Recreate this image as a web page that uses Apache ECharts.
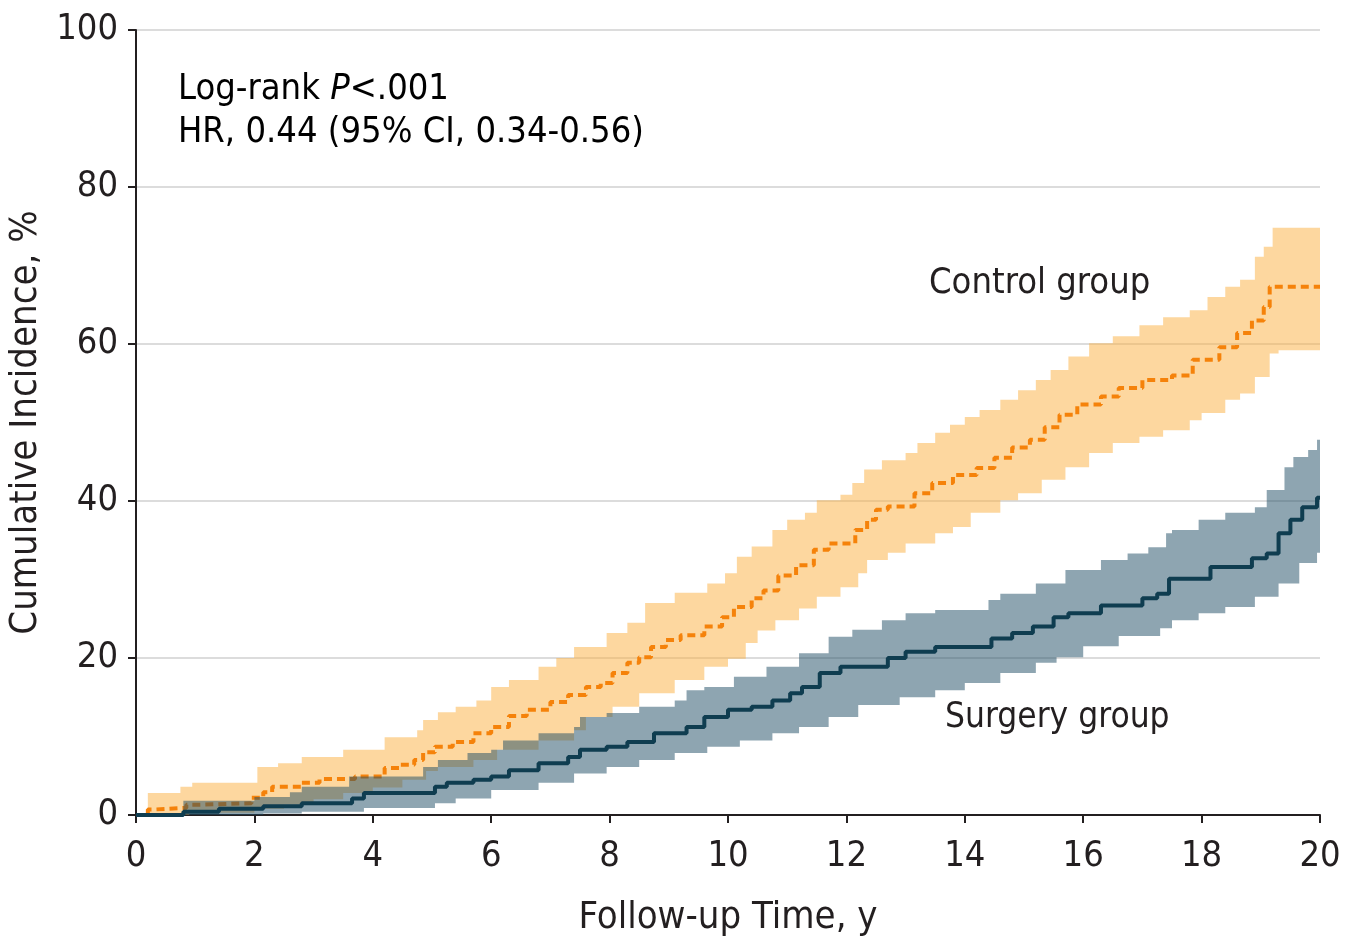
<!DOCTYPE html>
<html>
<head>
<meta charset="utf-8">
<title>Cumulative Incidence</title>
<script src="https://cdn.jsdelivr.net/npm/echarts@6/dist/echarts.min.js"></script>
<style>
  html, body { margin: 0; padding: 0; background: #ffffff; }
  #chart { width: 1347px; height: 939px; }
</style>
</head>
<body>
<div id="chart"></div>
<script>
// Kaplan-Meier style cumulative incidence, [years, percent] step points.
const controlEstimate = [
  [0, 0], [0.2, 0.7], [0.3, 0.9], [0.85, 1.3], [1.0, 1.5], [1.95, 2.2], [2.15, 2.9],
  [2.3, 3.6], [2.8, 4.1], [3.1, 4.6], [3.7, 4.9], [4.2, 6.0], [4.45, 6.4], [4.7, 7.0],
  [4.85, 8.0], [5.05, 8.7], [5.35, 9.3], [5.7, 10.4], [6.0, 11.2], [6.3, 12.6],
  [6.6, 13.4], [7.0, 14.4], [7.3, 15.3], [7.6, 16.3], [7.85, 16.8], [8.05, 18.1],
  [8.3, 19.4], [8.5, 20.1], [8.7, 21.4], [8.95, 22.3], [9.2, 22.9], [9.6, 24.0],
  [9.9, 25.2], [10.1, 26.5], [10.4, 27.6], [10.6, 28.6], [10.85, 30.5], [11.15, 31.8],
  [11.45, 33.8], [11.7, 34.6], [12.15, 36.3], [12.35, 37.6], [12.5, 38.9], [12.7, 39.3],
  [13.15, 41.0], [13.45, 42.3], [13.8, 43.3], [14.2, 44.2], [14.5, 45.5], [14.8, 46.8],
  [15.1, 47.8], [15.35, 49.4], [15.6, 51.0], [15.9, 52.3], [16.3, 53.3], [16.6, 54.4],
  [17.0, 55.4], [17.5, 56.0], [17.85, 58.0], [18.3, 59.6], [18.6, 61.4], [18.85, 63.0],
  [19.05, 64.7], [19.15, 67.3], [20, 67.3]
];
const controlUpper = [
  [0, 0], [0.2, 2.8], [0.75, 3.6], [0.95, 4.1], [2.05, 6.1], [2.4, 6.6], [2.8, 7.4],
  [3.5, 8.3], [4.2, 9.9], [4.75, 10.8], [4.85, 12.1], [5.1, 13.1], [5.4, 13.8],
  [5.75, 14.6], [6.0, 16.3], [6.3, 17.2], [6.8, 18.9], [7.1, 20.0], [7.4, 21.4],
  [7.95, 23.2], [8.3, 24.5], [8.6, 27.0], [9.1, 28.3], [9.65, 29.5], [9.95, 30.8],
  [10.15, 32.9], [10.4, 34.2], [10.75, 36.3], [11.0, 37.6], [11.3, 38.5], [11.5, 40.1],
  [11.9, 40.8], [12.1, 42.3], [12.3, 44.0], [12.6, 45.2], [13.0, 46.1], [13.2, 47.4],
  [13.5, 48.7], [13.75, 49.7], [14.0, 50.7], [14.25, 51.6], [14.6, 52.9], [14.9, 54.1],
  [15.2, 55.4], [15.45, 56.7], [15.75, 58.4], [16.1, 60.1], [16.5, 61.0], [16.95, 62.4],
  [17.35, 63.4], [17.8, 64.3], [18.1, 66.0], [18.4, 67.3], [18.65, 68.2], [18.9, 71.1],
  [19.05, 72.4], [19.2, 74.8], [20, 74.8]
];
const controlLower = [
  [0, 0], [0.9, 0.3], [2.0, 0.8], [2.5, 1.3], [3.0, 2.0], [3.5, 2.8], [4.0, 3.5],
  [4.5, 4.5], [4.9, 5.6], [5.1, 6.1], [5.7, 7.0], [6.1, 8.3], [6.8, 9.5], [7.4, 10.8],
  [7.6, 12.5], [8.05, 13.8], [8.5, 15.5], [9.1, 17.2], [9.6, 18.9], [10.0, 19.9],
  [10.3, 21.9], [10.5, 23.5], [10.8, 24.8], [11.2, 26.3], [11.5, 27.8], [11.9, 29.0],
  [12.2, 30.8], [12.35, 32.5], [12.7, 33.4], [13.0, 34.6], [13.5, 35.9], [13.8, 36.7],
  [14.1, 38.5], [14.6, 40.1], [14.9, 41.0], [15.3, 42.7], [15.7, 44.3], [16.1, 46.1],
  [16.5, 47.4], [16.95, 48.2], [17.35, 49.0], [17.8, 50.3], [18.0, 51.2], [18.4, 52.9],
  [18.65, 53.7], [18.9, 55.8], [19.15, 58.8], [19.3, 59.2], [20, 59.2]
];
const surgeryEstimate = [
  [0, 0], [0.8, 0.4], [1.4, 0.8], [2.15, 1.1], [2.8, 1.5], [3.65, 2.1], [3.85, 2.8],
  [5.05, 3.6], [5.25, 4.1], [5.7, 4.5], [6.0, 4.9], [6.3, 5.7], [6.8, 6.6], [7.3, 7.4],
  [7.5, 8.3], [7.95, 8.7], [8.3, 9.3], [8.75, 10.4], [9.3, 11.2], [9.6, 12.5],
  [10.0, 13.4], [10.4, 13.8], [10.75, 14.6], [11.05, 15.5], [11.25, 16.3], [11.55, 18.1],
  [11.9, 18.9], [12.7, 20.0], [13.0, 20.8], [13.5, 21.4], [14.45, 22.5], [14.8, 23.2],
  [15.15, 24.0], [15.5, 25.2], [15.75, 25.7], [16.3, 26.7], [17.0, 27.6], [17.25, 28.2],
  [17.45, 30.1], [18.15, 31.6], [18.85, 32.7], [19.1, 33.3], [19.3, 35.9], [19.5, 37.6],
  [19.7, 39.2], [19.95, 40.4], [20, 40.4]
];
const surgeryUpper = [
  [0, 0], [0.8, 1.8], [2.0, 2.3], [2.6, 2.9], [2.8, 3.6], [3.6, 4.9], [4.85, 6.1],
  [5.1, 7.0], [5.6, 7.9], [6.0, 8.3], [6.2, 9.5], [6.8, 10.4], [7.4, 11.2], [7.5, 12.5],
  [7.95, 13.0], [8.5, 13.8], [9.1, 14.6], [9.3, 15.9], [9.6, 16.3], [10.1, 17.6],
  [10.65, 18.9], [11.2, 20.6], [11.7, 22.7], [12.1, 23.6], [12.6, 24.8], [13.0, 25.7],
  [13.5, 26.1], [14.4, 27.4], [14.6, 28.2], [15.2, 29.5], [15.7, 31.2], [16.3, 32.5],
  [16.75, 33.3], [17.1, 34.1], [17.4, 35.9], [17.5, 36.3], [17.95, 37.6], [18.4, 38.5],
  [18.9, 39.2], [19.1, 41.4], [19.4, 44.3], [19.55, 45.6], [19.8, 46.5], [19.95, 47.8],
  [20, 47.8]
];
const surgeryLower = [
  [0, 0], [2.15, 0.2], [2.8, 0.4], [3.85, 0.9], [5.05, 1.5], [5.4, 2.1], [6.0, 3.2],
  [6.8, 4.1], [7.4, 5.3], [7.95, 6.1], [8.5, 7.0], [9.1, 7.9], [9.65, 8.7], [10.2, 9.5],
  [10.75, 10.4], [11.2, 11.2], [11.7, 12.5], [12.2, 14.0], [12.9, 15.0], [13.5, 15.9],
  [14.0, 16.8], [14.6, 18.1], [15.2, 19.4], [15.55, 20.1], [16.0, 21.5], [16.6, 22.8],
  [17.3, 23.8], [17.5, 24.8], [17.95, 25.7], [18.4, 26.5], [18.9, 27.8], [19.3, 29.5],
  [19.65, 32.1], [19.95, 33.4], [20, 33.4]
];

const xTicks = [0, 2, 4, 6, 8, 10, 12, 14, 16, 18, 20];
const yTicks = [0, 20, 40, 60, 80, 100];

const FONT = '"Liberation Sans Narrow", "DejaVu Sans Condensed", "Open Sans", sans-serif';
const INK = '#231f20';

// turn [t, v] step points into a staircase polyline (value held until next time)
function staircase(points) {
  const out = [];
  for (let i = 0; i < points.length; i++) {
    if (i > 0) out.push([points[i][0], points[i - 1][1]]);
    out.push(points[i]);
  }
  return out;
}

// confidence band drawn as one filled polygon between the stepped upper and lower limits
function bandSeries(name, lower, upper, color, z) {
  const outline = staircase(upper).concat(staircase(lower).reverse());
  return {
    name, type: 'custom', silent: true, z,
    data: [0],
    clip: true,
    renderItem: function (params, api) {
      const pts = outline.map(p => api.coord(p));
      return { type: 'polygon', shape: { points: pts }, style: { fill: color } };
    }
  };
}

const chart = echarts.init(document.getElementById('chart'), null, { renderer: 'canvas' });

const option = {
  animation: false,
  backgroundColor: '#ffffff',
  grid: { left: 136, right: 27, top: 30, bottom: 124, containLabel: false, outerBoundsMode: 'none' },
  xAxis: {
    type: 'value', min: xTicks[0], max: xTicks[xTicks.length - 1], interval: 2,
    name: 'Follow-up Time, y', nameLocation: 'middle', nameGap: 84,
    nameTextStyle: { fontFamily: FONT, fontSize: 38, color: INK },
    axisLine: { show: true, onZero: false, lineStyle: { color: INK, width: 2 } },
    axisTick: { show: true, inside: false, length: 8, lineStyle: { color: INK, width: 2 } },
    axisLabel: { fontFamily: FONT, fontSize: 36, color: INK, margin: 24 },
    splitLine: { show: false }
  },
  yAxis: {
    type: 'value', min: yTicks[0], max: yTicks[yTicks.length - 1], interval: 20,
    name: 'Cumulative Incidence, %', nameLocation: 'middle', nameGap: 84, nameRotate: 90,
    nameTextStyle: { fontFamily: FONT, fontSize: 38, color: INK },
    axisLine: { show: true, lineStyle: { color: INK, width: 2 } },
    axisTick: { show: true, inside: false, length: 8, lineStyle: { color: INK, width: 2 } },
    axisLabel: { fontFamily: FONT, fontSize: 36, color: INK, margin: 18 },
    splitLine: { show: true, lineStyle: { color: '#dcdcdc', width: 2 } }
  },
  series: [
    bandSeries('Control group 95% CI', controlLower, controlUpper, 'rgba(251,176,64,0.5)', 1),
    {
      name: 'Control group', type: 'line', step: 'end', data: controlEstimate,
      symbol: 'none', lineStyle: { color: '#f5820a', width: 4, type: [8, 5] }, z: 2
    },
    bandSeries('Surgery group 95% CI', surgeryLower, surgeryUpper, 'rgba(30,75,100,0.5)', 3),
    {
      name: 'Surgery group', type: 'line', step: 'end', data: surgeryEstimate,
      symbol: 'none', lineStyle: { color: '#0f3d50', width: 4 }, z: 4
    }
  ],
  graphic: [
    {
      type: 'text', left: 178, top: 72,
      style: {
        text: '{n|Log-rank }{i|P}{n|<.001}\n{n|HR, 0.44 (95% CI, 0.34-0.56)}',
        rich: {
          n: { fontFamily: FONT, fontSize: 36, color: INK, lineHeight: 43 },
          i: { fontFamily: FONT, fontSize: 36, color: INK, fontStyle: 'italic', lineHeight: 43 }
        }
      }
    },
    {
      type: 'text', left: 929, top: 266,
      style: { text: 'Control group', fontFamily: FONT, fontSize: 36, fill: INK }
    },
    {
      type: 'text', left: 945, top: 700,
      style: { text: 'Surgery group', fontFamily: FONT, fontSize: 35, fill: INK }
    }
  ]
};

chart.setOption(option);
</script>
</body>
</html>
